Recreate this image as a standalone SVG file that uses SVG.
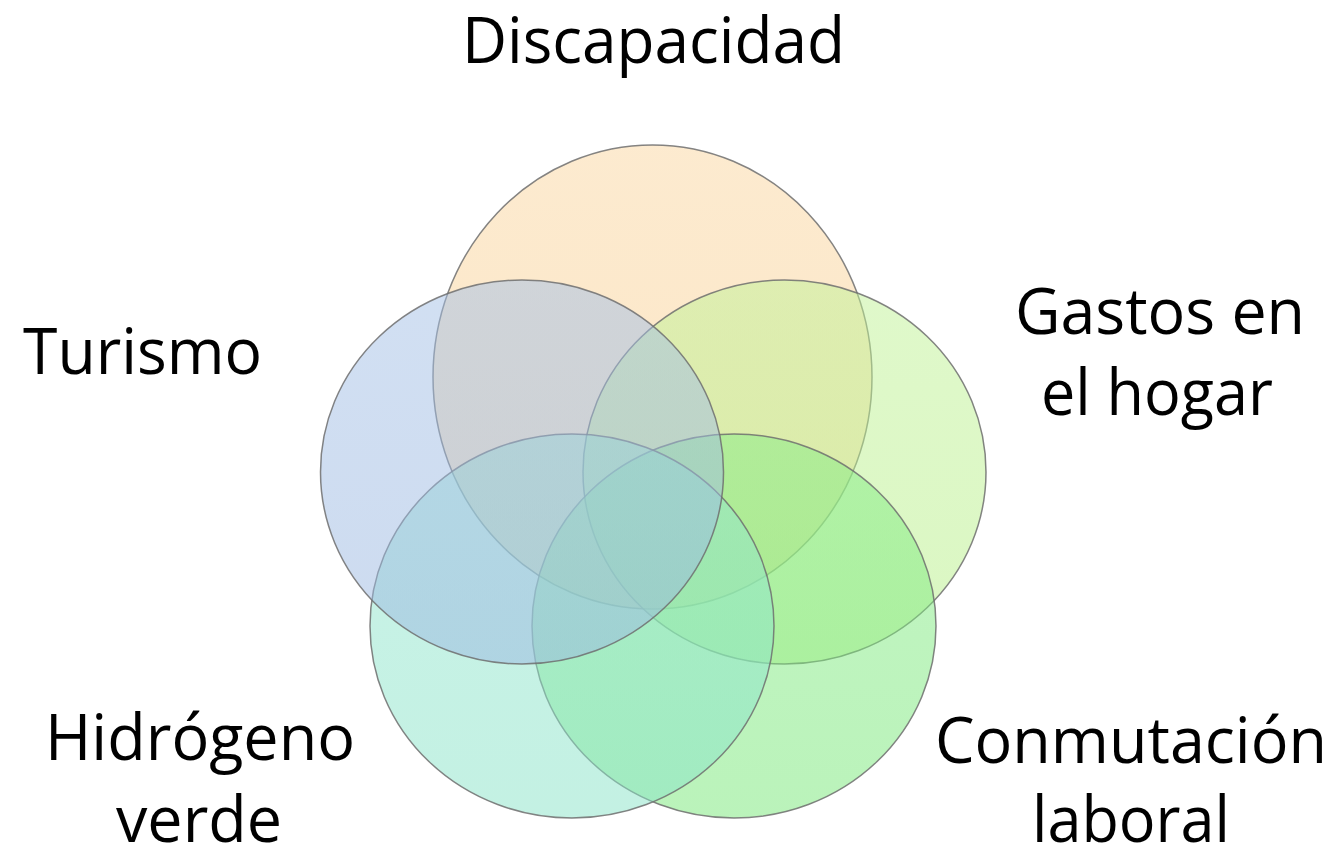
<svg xmlns="http://www.w3.org/2000/svg" width="1341" height="849" viewBox="0 0 1341 849">
  <style>
    .circ { fill-opacity: 0.5; stroke: #6f6f6f; stroke-width: 1.5; stroke-opacity: 0.85; }
    .lbl { font-family: "Open Sans", "Noto Sans", "Liberation Sans", sans-serif; font-size: 64px; fill: #000000; text-anchor: middle; }
  </style>
  <defs>
    <linearGradient id="gOrange" x1="0" y1="0" x2="0" y2="1">
      <stop offset="0" stop-color="#FAD6A0"/>
      <stop offset="1" stop-color="#F8CC8A"/>
    </linearGradient>
    <linearGradient id="gLime" x1="0" y1="0" x2="0" y2="1">
      <stop offset="0" stop-color="#C0F296"/>
      <stop offset="1" stop-color="#B6EF86"/>
    </linearGradient>
    <linearGradient id="gGreen" x1="0" y1="0" x2="0" y2="1">
      <stop offset="0" stop-color="#86EC86"/>
      <stop offset="1" stop-color="#76E776"/>
    </linearGradient>
    <linearGradient id="gTeal" x1="0" y1="0" x2="0" y2="1">
      <stop offset="0" stop-color="#93E6CF"/>
      <stop offset="1" stop-color="#88E3C7"/>
    </linearGradient>
    <linearGradient id="gBlue" x1="0" y1="0" x2="0" y2="1">
      <stop offset="0" stop-color="#A4C0E6"/>
      <stop offset="1" stop-color="#9AB7E0"/>
    </linearGradient>
  </defs>
  <rect x="0" y="0" width="1341" height="849" fill="#ffffff"/>

  <g id="node-discapacidad">
    <ellipse class="circ" cx="652.5" cy="377" rx="219.5" ry="232" fill="url(#gOrange)"/>
    <text class="lbl" x="653.5" y="63" textLength="383" lengthAdjust="spacingAndGlyphs">Discapacidad</text>
  </g>

  <g id="node-gastos">
    <ellipse class="circ" cx="784.5" cy="472" rx="201.5" ry="192" fill="url(#gLime)"/>
    <text class="lbl" x="1160" y="334" textLength="290" lengthAdjust="spacingAndGlyphs">Gastos en</text>
    <text class="lbl" x="1157" y="415" textLength="232" lengthAdjust="spacingAndGlyphs">el hogar</text>
  </g>

  <g id="node-conmutacion">
    <ellipse class="circ" cx="734" cy="626" rx="202" ry="192" fill="url(#gGreen)"/>
    <text class="lbl" x="1131" y="763" textLength="392" lengthAdjust="spacingAndGlyphs">Conmutación</text>
    <text class="lbl" x="1131" y="842" textLength="198" lengthAdjust="spacingAndGlyphs">laboral</text>
  </g>

  <g id="node-hidrogeno">
    <ellipse class="circ" cx="572" cy="626" rx="202" ry="192" fill="url(#gTeal)"/>
    <text class="lbl" x="200" y="760" textLength="310" lengthAdjust="spacingAndGlyphs">Hidrógeno</text>
    <text class="lbl" x="199" y="842" textLength="166" lengthAdjust="spacingAndGlyphs">verde</text>
  </g>

  <g id="node-turismo">
    <ellipse class="circ" cx="522" cy="472" rx="201.5" ry="192" fill="url(#gBlue)"/>
    <text class="lbl" x="142.5" y="374" textLength="239" lengthAdjust="spacingAndGlyphs">Turismo</text>
  </g>

  <g id="connectors"></g>
</svg>
